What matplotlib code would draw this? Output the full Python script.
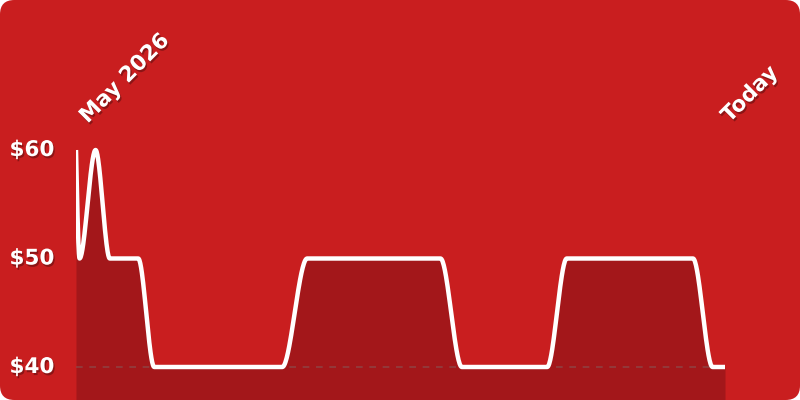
import numpy as np
import matplotlib.pyplot as plt
import matplotlib.patheffects as pe
from matplotlib.patches import FancyBboxPatch

plt.rcParams['font.family'] = ['DejaVu Sans']

# price history: day offset from start, price in dollars
days = [0, 2, 11, 19, 35, 44, 116, 130, 205, 217, 265, 276, 347, 358, 365]
price = [60, 50, 60, 50, 50, 40, 40, 50, 50, 40, 40, 50, 50, 40, 40]
y_ticks = [40, 50, 60]
y_labels = ['$40', '$50', '$60']
x_labels = ['May 2026', 'Today']

BG = '#c91e1f'
FILL = '#a3171a'


def monotone(x, y, n=40):
    # monotone cubic (Steffen style, like d3 curveMonotoneX)
    x = np.asarray(x, float)
    y = np.asarray(y, float)
    h = np.diff(x)
    s = np.diff(y) / h
    t = np.zeros(len(x))
    for i in range(1, len(x) - 1):
        p = (s[i - 1] * h[i] + s[i] * h[i - 1]) / (h[i - 1] + h[i])
        t[i] = (np.sign(s[i - 1]) + np.sign(s[i])) * min(abs(s[i - 1]), abs(s[i]), 0.5 * abs(p))
    t[0] = (3 * s[0] - t[1]) / 2
    t[-1] = (3 * s[-1] - t[-2]) / 2
    xs, ys = [], []
    for i in range(len(x) - 1):
        u = np.linspace(0, 1, n)
        dx = h[i]
        p0, p3 = y[i], y[i + 1]
        p1 = y[i] + dx * t[i] / 3
        p2 = y[i + 1] - dx * t[i + 1] / 3
        q0, q3 = x[i], x[i + 1]
        q1, q2 = x[i] + dx / 3, x[i + 1] - dx / 3
        b = lambda a, b_, c, d: ((1 - u) ** 3 * a + 3 * (1 - u) ** 2 * u * b_
                                 + 3 * (1 - u) * u ** 2 * c + u ** 3 * d)
        xs.append(b(q0, q1, q2, q3))
        ys.append(b(p0, p1, p2, p3))
    return np.concatenate(xs), np.concatenate(ys)


fig = plt.figure(figsize=(8, 4), dpi=100, facecolor='white')
bg = FancyBboxPatch((0, 0), 1, 1, boxstyle='round,pad=0,rounding_size=0.018',
                    transform=fig.transFigure, facecolor=BG,
                    edgecolor='none', mutation_aspect=2, zorder=-10)
fig.patches.append(bg)

ax = fig.add_axes([76 / 800, 0, (725 - 76) / 800, 1])
ax.set_facecolor('none')
ylo = 40 - 33 / 10.85
yhi = 60 + 150 / 10.85
ax.set_ylim(ylo, yhi)
ax.set_xlim(days[0], days[-1])

sx, sy = monotone(days, price)
ax.fill_between(sx, sy, ylo, color=FILL, lw=0)
ax.axhline(40, color='#8c4a4a', lw=1.2, ls=(0, (4, 4)), alpha=0.8)
ax.plot(sx, sy, color='white', lw=3.2, solid_capstyle='butt', solid_joinstyle='round')

for s in ax.spines.values():
    s.set_visible(False)
ax.set_xticks([])
ax.set_yticks([])

shadow = [pe.withSimplePatchShadow(offset=(1, -1.5), shadow_rgbFace='black', alpha=0.3)]
for v, lab in zip(y_ticks, y_labels):
    ax.text(-0.1025, v, lab, transform=ax.get_yaxis_transform(), color='white',
            fontsize=15.5, fontweight='bold', ha='left', va='center', path_effects=shadow)

xt = ax.get_xaxis_transform()
ax.text(days[0] + 6.5, 0.69, x_labels[0], transform=xt, rotation=45, rotation_mode='anchor',
        ha='left', va='baseline', color='white', fontsize=15.5, fontweight='bold',
        path_effects=shadow)
ax.text(days[-1] + 2.5, 0.692, x_labels[1], transform=xt, rotation=45, rotation_mode='anchor',
        ha='left', va='baseline', color='white', fontsize=15.5, fontweight='bold',
        path_effects=shadow, clip_on=False)

fig.savefig('out.png', dpi=100, facecolor='white')
